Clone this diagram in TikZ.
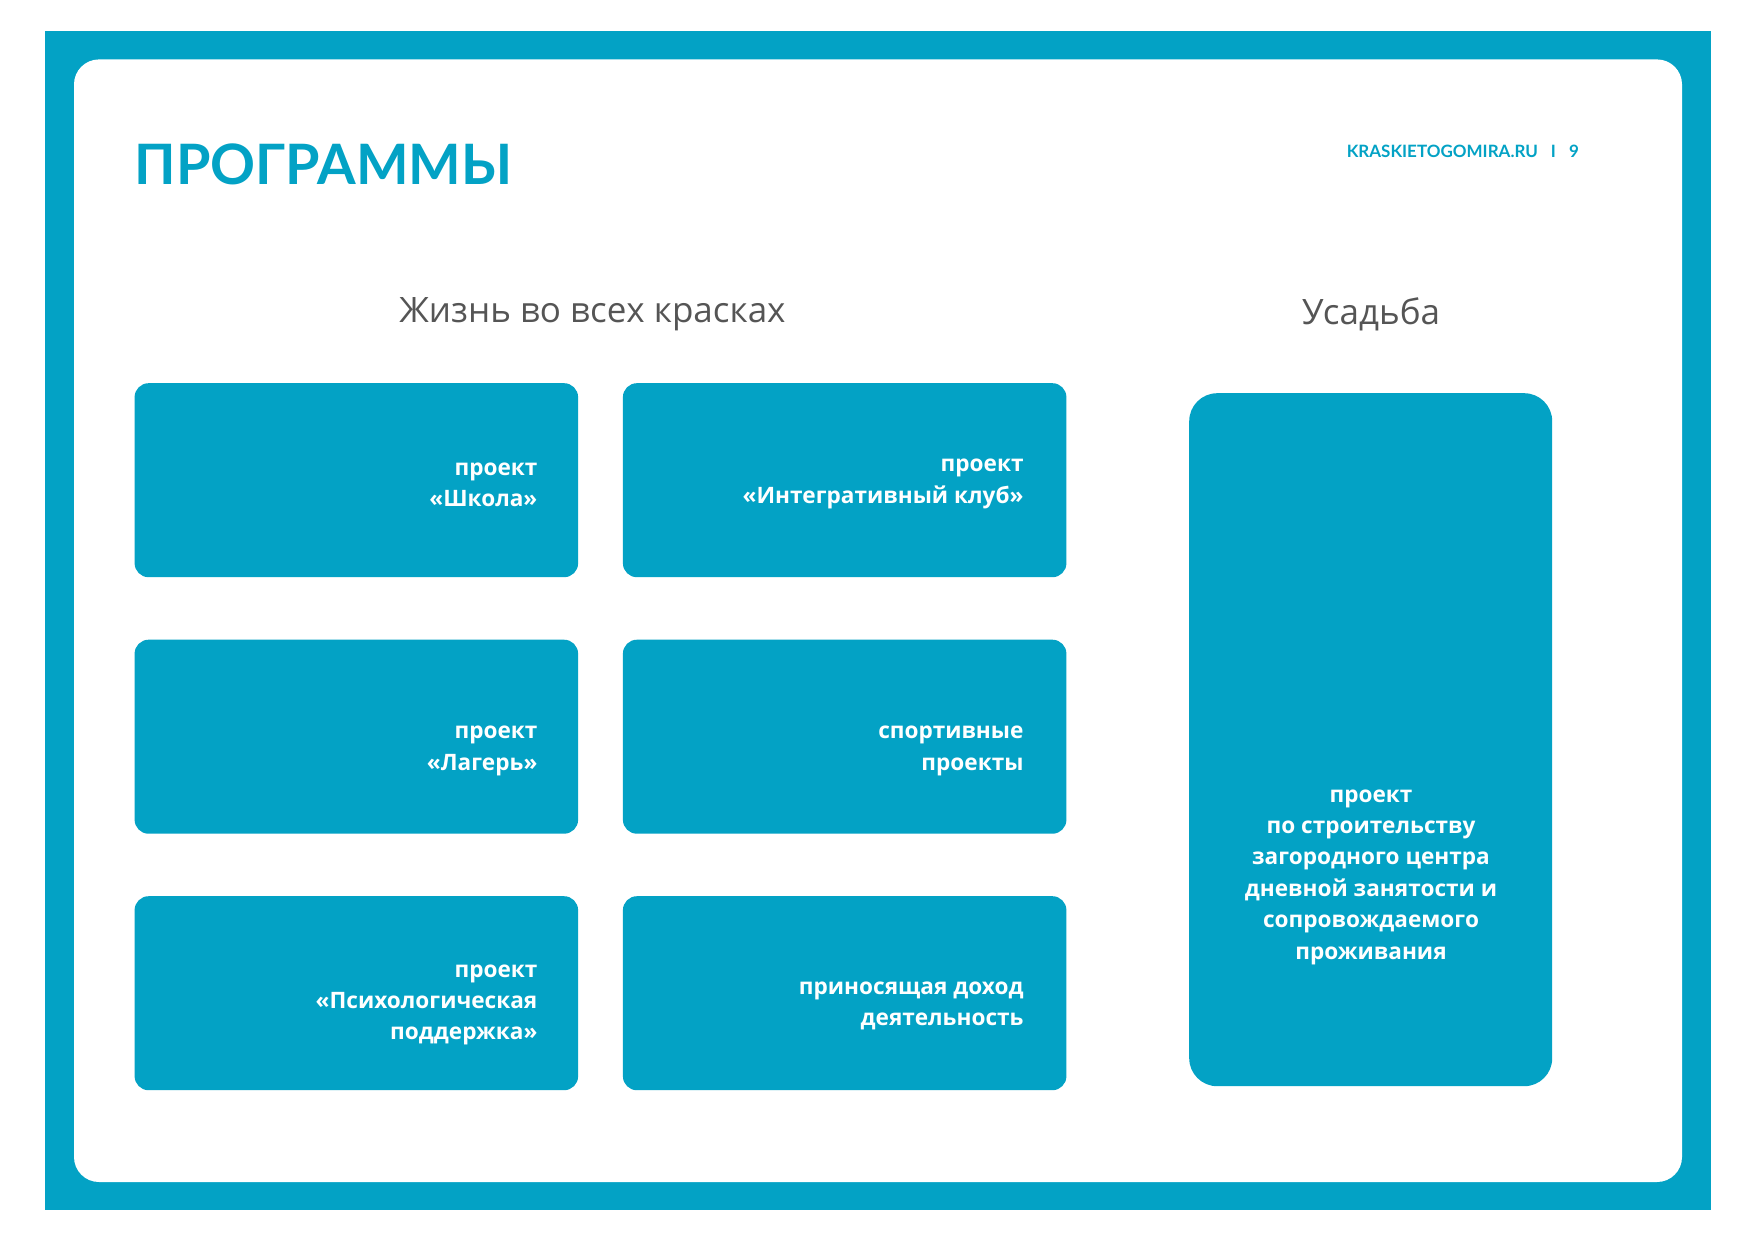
\documentclass[tikz,border=0pt]{standalone}
\usepackage{fontspec}
\setmainfont{Open Sans}
\newfontfamily\latofont{Lato}
\definecolor{teal1}{HTML}{03A2C5}
\definecolor{gray1}{HTML}{555555}
\begin{document}
\begin{tikzpicture}[x=1pt,y=-1pt,
  prog/.style={fill=teal1, draw=none, rounded corners=14pt, inner sep=0pt, anchor=north west},
  btext/.style={text=white, font=\bfseries\fontsize{22.6}{31.4}\selectfont, align=right, inner sep=0pt},
  head/.style={text=gray1, font=\fontsize{35}{35}\selectfont, inner sep=0pt}]
\useasboundingbox (0,0) rectangle (1755,1240);
\fill[white] (0,0) rectangle (1755,1240);
\fill[teal1] (44.8,31.4) rectangle (1711,1210);
\fill[white, rounded corners=25pt] (74,59.4) rectangle (1682,1182);

\node[anchor=west, text=teal1, inner sep=0pt, font=\latofont\bfseries\fontsize{55.7}{55.7}\selectfont] (title) at (134.4,164.6) {ПРОГРАММЫ};
\node[anchor=east, text=teal1, inner sep=0pt, font=\latofont\bfseries\fontsize{17}{17}\selectfont] (web) at (1579,151) {KRASKIETOGOMIRA.RU\hspace{13pt}I\hspace{13pt}9};

\node[head] (h1) at (592.5,314.5) {Жизнь во всех красках};
\node[head] (h2) at (1371,314.5) {Усадьба};

\node[prog, minimum width=443.5pt, minimum height=194pt] (b1) at (134.4,383) {};
\node[prog, minimum width=443.5pt, minimum height=194pt] (b2) at (622.7,383) {};
\node[prog, minimum width=443.5pt, minimum height=194pt] (b3) at (134.4,639.5) {};
\node[prog, minimum width=443.5pt, minimum height=194pt] (b4) at (622.7,639.5) {};
\node[prog, minimum width=443.5pt, minimum height=194pt] (b5) at (134.4,896) {};
\node[prog, minimum width=443.5pt, minimum height=194pt] (b6) at (622.7,896) {};
\node[prog, rounded corners=28pt, minimum width=363pt, minimum height=693pt] (b7) at (1189,393) {};

\node[btext, anchor=east] (t1) at (537.6,485) {проект\\«Школа»};
\node[btext, anchor=east] (t2) at (1023.7,483.8) {проект\\«Интегративный клуб»};
\node[btext, anchor=east] (t3) at (537.6,751) {проект\\«Лагерь»};
\node[btext, anchor=east] (t4) at (1023.7,751) {спортивные\\проекты};
\node[btext, anchor=east] (t5) at (537.6,1005) {проект\\«Психологическая\\поддержка»};
\node[btext, anchor=east] (t6) at (1023.7,1006) {приносящая доход\\деятельность};
\node[btext, align=center] (t7) at (1371,877) {проект\\по строительству\\загородного центра\\дневной занятости и\\сопровождаемого\\проживания};
\end{tikzpicture}
\end{document}
